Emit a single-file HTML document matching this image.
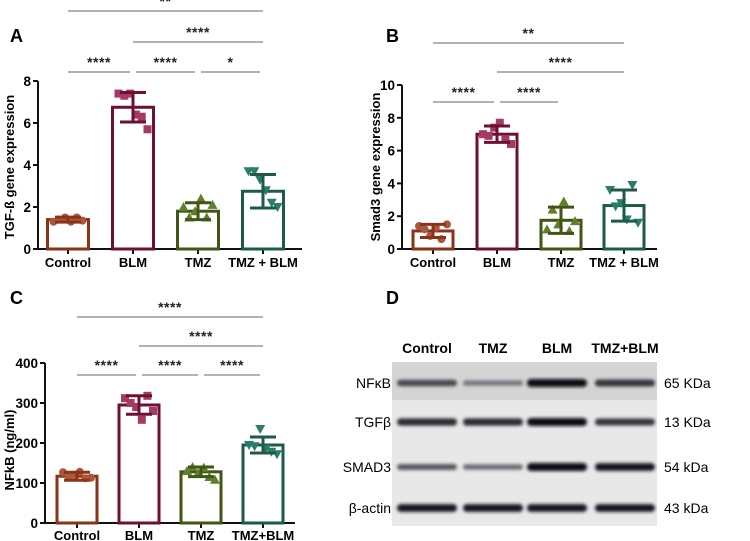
<!DOCTYPE html>
<html><head><meta charset="utf-8"><style>
body{margin:0;background:#fff;width:750px;height:541px;overflow:hidden;font-family:"Liberation Sans",sans-serif}
svg{position:absolute;left:0;top:0}
</style></head><body>
<svg id="fig" width="750" height="541" viewBox="0 0 750 541"></svg>
<script>
const groups = ["Control","BLM","TMZ","TMZ + BLM"];
const groupsC = ["Control","BLM","TMZ","TMZ+BLM"];
const colors = ["#8a3318","#6e0f33","#3f5614","#1c5a4a"];
const ptColors = ["#a9583c","#a53a64","#5f7f2c","#2a7d68"];
const shapes = ["circle","square","triangle","tri-down"];
const meanA = [1.4,6.75,1.8,2.75];
const sdA = [0.12,0.7,0.4,0.8];
const ptsA = [[1.3,1.4,1.5,1.3,1.5,1.35],[7.4,7.3,7.4,6.4,6.3,5.7],[2.0,1.5,1.8,2.4,1.5,2.1],[3.7,3.7,3.3,2.8,2.2,2.0]];
const ticksA = [0,2,4,6,8];
const meanB = [1.1,7.0,1.75,2.65];
const sdB = [0.4,0.5,0.8,0.95];
const ptsB = [[1.4,1.2,0.8,1.3,0.6,1.5],[7.0,6.9,7.4,7.7,6.7,6.4],[1.2,2.4,1.5,2.9,1.1,1.7],[3.6,2.6,2.8,1.8,3.9,1.6]];
const ticksB = [0,2,4,6,8,10];
const meanC = [117,295,128,195];
const sdC = [10,23,12,20];
const ptsC = [[127,115,120,128,112,113],[312,300,290,258,318,280],[130,140,125,138,115,108],[195,192,235,185,178,172]];
const ticksC = [0,100,200,300,400];
const sigA = [[0,3,"**"],[1,3,"****"],[0,1,"****"],[1,2,"****"],[2,3,"*"]];
const sigB = [[0,3,"**"],[1,3,"****"],[0,1,"****"],[1,2,"****"]];
const sigC = [[0,3,"****"],[1,3,"****"],[0,1,"****"],[1,2,"****"],[2,3,"****"]];
const blotLanes = ["Control","TMZ","BLM","TMZ+BLM"];
const blotRows = ["NFκB","TGFβ","SMAD3","β-actin"];
const blotKda = ["65 KDa","13 KDa","54 kDa","43 kDa"];
const blotIntensity = [[0.7,0.45,1.0,0.8],[0.85,0.85,1.0,0.8],[0.6,0.5,1.0,0.95],[0.95,0.95,0.95,0.95]];

const NS="http://www.w3.org/2000/svg";
const svg=document.getElementById('fig');
function mk(tag,attrs,parent){const e=document.createElementNS(NS,tag);for(const k in attrs)e.setAttribute(k,attrs[k]);(parent||svg).appendChild(e);return e;}
function txt(s,attrs,parent){const e=mk('text',attrs,parent);e.textContent=s;return e;}

function chart(cfg){
  const g=mk('g',{});
  
  
  const yMax=cfg.ticks[cfg.ticks.length-1];
  const y=v=>cfg.y0-(v/yMax)*(cfg.y0-cfg.yTop);
  const x=i=>cfg.xs[i];
  const p=txt(cfg.letter,{x:cfg.lx,y:cfg.ly,'font-size':18,'font-weight':'bold'},g);
  
  
  const ax=mk('path',{d:`M${cfg.ax},${cfg.yTop} V${cfg.y0} H${cfg.axEnd}`,stroke:'#111',fill:'none','stroke-width':2},g);
  
  
  cfg.ticks.forEach(t=>{
    mk('line',{x1:cfg.ax-5,x2:cfg.ax,y1:y(t),y2:y(t),stroke:'#111','stroke-width':2},g);
    const tl=txt(String(t),{x:cfg.ax-7,y:y(t)+5,'font-size':13.5,'font-weight':'bold','text-anchor':'end'},g);
    
    
  });
  const yt=txt(cfg.ytitle,{x:0,y:0,'font-size':13,'font-weight':'bold','text-anchor':'middle',transform:`translate(${cfg.ytx},${cfg.yty}) rotate(-90)`},g);
  
  
  cfg.mean.forEach((m,i)=>{
    const bw=cfg.bw;
    mk('line',{x1:x(i),x2:x(i),y1:cfg.y0,y2:cfg.y0+5,stroke:'#111','stroke-width':2},g);
    const b=mk('rect',{x:x(i)-bw/2,y:y(m),width:bw,height:cfg.y0-y(m),fill:'#fff',stroke:colors[i],'stroke-width':3},g);
    
    
    cfg.pts[i].forEach((v,j)=>{
      const px=x(i)-bw/2+6+j*(bw-12)/5, py=y(v), c=ptColors[i];
      let s;
      if(shapes[i]=='circle') s=mk('circle',{cx:px,cy:py,r:4,fill:c},g);
      else if(shapes[i]=='square') s=mk('rect',{x:px-4,y:py-4,width:8,height:8,fill:c},g);
      else if(shapes[i]=='triangle') s=mk('path',{d:`M${px},${py-5} L${px+5},${py+4} L${px-5},${py+4}Z`,fill:c},g);
      else s=mk('path',{d:`M${px},${py+5} L${px+5},${py-4} L${px-5},${py-4}Z`,fill:c},g);
      
      
    });
    const sd=cfg.sd[i], e=mk('path',{d:`M${x(i)},${y(m+sd)} V${y(m-sd)} M${x(i)-13},${y(m+sd)} h26 M${x(i)-13},${y(m-sd)} h26`,stroke:colors[i],'stroke-width':3,fill:'none'},g);
    
    
    const cl=txt(cfg.cats[i],{x:x(i),y:cfg.y0+cfg.lblOff,'font-size':13,'font-weight':'bold','text-anchor':'middle'},g);
    
    
  });
  cfg.sig.forEach((s,k)=>{
    const ly=cfg.sigY[k], adj=(s[1]-s[0]==1);
    const x1=x(s[0])+(adj&&s[0]>0?3:0), x2=x(s[1])-(adj?3:0);
    const l=mk('line',{x1:x1,x2:x2,y1:ly,y2:ly,stroke:'#666','stroke-width':1},g);
    
    
    const st=txt(s[2],{x:(x1+x2)/2,y:ly-5,'font-size':14,'font-weight':'bold','text-anchor':'middle','letter-spacing':0.5,fill:'#222'},g);
    
    
  });
}
chart({name:'chart-a',letter:'A',lx:10,ly:42,cats:groups,mean:meanA,sd:sdA,pts:ptsA,ticks:ticksA,ax:38,axEnd:302,yTop:81,y0:249,xs:[68,133,198,263],bw:41,lblOff:18,ytitle:'TGF-ß gene expression',ytx:14,yty:167,sig:sigA,sigY:[11,42,72,72,72]});
chart({name:'chart-b',letter:'B',lx:386,ly:42,cats:groups,mean:meanB,sd:sdB,pts:ptsB,ticks:ticksB,ax:402,axEnd:657,yTop:85,y0:249,xs:[433,497,561,624],bw:40,lblOff:18,ytitle:'Smad3 gene expression',ytx:380,yty:167,sig:sigB,sigY:[43,72,102,102]});
chart({name:'chart-c',letter:'C',lx:10,ly:304,cats:groupsC,mean:meanC,sd:sdC,pts:ptsC,ticks:ticksC,ax:45,axEnd:295,yTop:363,y0:523,xs:[77,139,201,263],bw:40,lblOff:17,ytitle:'NFkB (ng/ml)',ytx:14,yty:450,sig:sigC,sigY:[317,346,375,375,375]});

const gd=mk('g',{});


txt('D',{x:386,y:304,'font-size':18,'font-weight':'bold'},gd);
mk('rect',{x:392,y:362,width:265,height:164,fill:'#e8e8e8'},gd);
mk('rect',{x:392,y:362,width:265,height:38,fill:'#d4d4d4'},gd);
mk('defs',{},gd).innerHTML='<filter id="bl" x="-20%" y="-100%" width="140%" height="300%"><feGaussianBlur stdDeviation="1.6"/></filter>';
const laneX=[427,493,557,625], rowY=[383,422,467,508];
blotLanes.forEach((l,i)=>{const t=txt(l,{x:laneX[i],y:353,'font-size':14,'font-weight':'bold','text-anchor':'middle'},gd);
  
  });
blotRows.forEach((r,k)=>{
  const t=txt(r,{x:391,y:rowY[k]+5,'font-size':14,'text-anchor':'end'},gd);
  
  
  const kd=txt(blotKda[k],{x:664,y:rowY[k]+5,'font-size':14},gd);
  
  
  blotIntensity[k].forEach((v,i)=>{
    const h=3+v*5, c=Math.round(200-v*185);
    const b=mk('rect',{x:laneX[i]-30,y:rowY[k]-h/2,width:60,height:h,rx:h/2,fill:`rgb(${c},${c},${c+8})`,filter:'url(#bl)'},gd);
    
    
  });
});
</script>
</body></html>
